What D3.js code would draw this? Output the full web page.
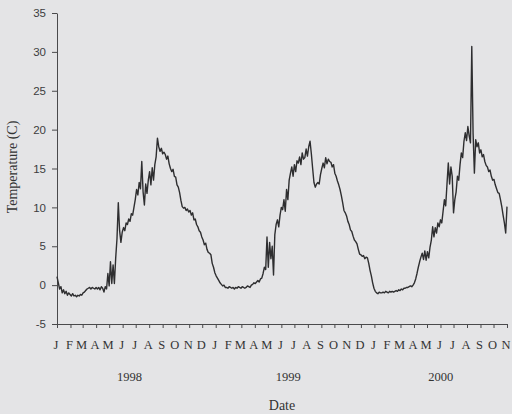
<!DOCTYPE html>
<html>
<head>
<meta charset="utf-8">
<script src="https://cdn.jsdelivr.net/npm/d3@7/dist/d3.min.js"></script>
<style>
  html, body { margin: 0; padding: 0; background: #e4e4e6; }
  svg { display: block; }
</style>
</head>
<body>
<svg id="chart" width="512" height="414"></svg>
<script>
// Daily water temperature, sampled every 3 days from 1 Jan 1998
const startDate = "1998-01-01";
const stepDays = 3;
const temps = [
  // 1998
  1.1, 0.3, -0.5, -0.2, -1.0, -0.6, -1.1, -0.8, -1.3, -1.0,
  -1.2, -1.4, -1.1, -1.4, -1.3, -1.5, -1.3, -1.4, -1.2, -1.3,
  -1.0, -0.9, -0.7, -0.5, -0.4, -0.3, -0.5, -0.3, -0.4, -0.5,
  -0.3, -0.5, -0.3, -0.6, -0.2, -0.4, -0.9, -0.2, -0.5, 1.5,
  -0.1, 3.0, 0.2, 2.6, 0.2, 3.5, 6.0, 10.6, 7.0, 5.5,
  6.8, 7.4, 7.0, 8.0, 7.8, 8.5, 8.2, 9.2, 9.0, 10.0,
  11.0, 12.3, 11.6, 13.2, 12.4, 15.9, 12.0, 10.3, 13.0, 11.8,
  13.5, 14.6, 12.9, 15.1, 13.5, 15.5, 16.5, 18.9, 17.8, 17.2,
  17.6, 16.9, 17.1, 16.8, 16.2, 16.6, 15.6, 15.0, 14.6, 14.9,
  14.0, 13.9, 12.9, 12.6, 11.9, 10.9, 10.1, 9.9, 10.0, 9.6,
  9.8, 9.4, 9.6, 9.0, 9.3, 8.4, 8.5, 7.8, 7.5, 7.0,
  6.8, 6.2, 5.8, 5.2, 5.4, 4.6, 4.2, 4.1, 3.9, 2.8,
  // 1999
  2.3, 1.6, 1.2, 0.9, 0.6, 0.3, 0.1, -0.1, 0.0, -0.3,
  -0.3, -0.4, -0.2, -0.3, -0.4, -0.3, -0.5, -0.3, -0.4, -0.2,
  -0.3, -0.4, -0.2, -0.3, -0.4, -0.3, -0.1, -0.2, -0.3, 0.0,
  0.1, 0.3, 0.2, 0.4, 0.6, 0.4, 0.8, 0.9, 1.5, 2.3,
  2.0, 6.2, 2.3, 5.5, 3.4, 5.0, 1.3, 6.5, 7.8, 8.4,
  7.5, 9.0, 10.0, 9.7, 11.0, 9.5, 12.3, 11.0, 13.5, 14.4,
  15.2, 14.0, 15.5, 14.6, 16.0, 15.7, 16.5, 15.5, 17.0, 16.2,
  16.4, 17.5, 16.6, 17.8, 18.5, 16.9, 15.0, 13.2, 12.6, 13.0,
  13.2, 13.0, 14.2, 15.0, 15.7, 15.1, 16.4, 15.6, 16.2, 15.9,
  15.8, 15.2, 15.5, 14.4, 14.0, 13.4, 12.9, 12.3, 11.5, 10.6,
  9.6, 9.3, 8.9, 8.2, 7.8, 7.1, 6.9, 6.3, 5.8, 5.6,
  5.3, 4.6, 4.0, 3.9, 3.7, 3.8, 3.4, 3.6, 3.5, 2.8,
  // 2000
  1.9, 1.2, 0.3, -0.4, -0.8, -1.0, -1.1, -0.9, -1.0, -1.0,
  -0.9, -1.0, -0.8, -0.9, -1.0, -0.8, -0.9, -0.8, -0.9, -0.8,
  -0.7, -0.8, -0.6, -0.7, -0.5, -0.6, -0.4, -0.4, -0.3, -0.3,
  -0.2, -0.1, -0.2, 0.0, 0.3, 0.8, 1.5, 2.3, 3.0, 3.6,
  4.1, 3.3, 4.4, 3.2, 4.3, 3.5, 4.9, 5.8, 7.5, 6.2,
  7.4, 6.7, 8.0, 7.5, 8.4, 8.0, 9.5, 11.0, 10.2, 13.0,
  15.7, 13.0, 15.2, 14.0, 9.3, 11.0, 12.0, 14.0, 13.5, 15.5,
  17.0, 16.4, 18.5, 19.6, 18.6, 20.4, 19.2, 18.3, 30.7, 19.5,
  14.4, 18.7, 17.8, 18.3, 17.0, 17.4, 16.5, 16.8, 15.9, 15.4,
  15.2, 14.6, 14.8, 14.0, 13.5, 13.6, 12.9, 12.4, 11.9, 11.8,
  11.0, 10.1, 9.0, 8.0, 6.7, 10.1
];

const monthInitials = ["J", "F", "M", "A", "M", "J", "J", "A", "S", "O", "N", "D"];
const yTicks = [-5, 0, 5, 10, 15, 20, 25, 30, 35];
const axisStart = "1998-01-01";
const axisEnd = "2000-11-01";
const yTitle = "Temperature (C)";
const xTitle = "Date";

const parse = d3.utcParse("%Y-%m-%d");
const t0 = parse(startDate);
const series = temps.map((v, i) => ({ date: d3.utcDay.offset(t0, i * stepDays), value: v }));

const svg = d3.select("#chart");
const ink = "#2e2e30";
const axisInk = "#4a4a4c";

const x = d3.scaleUtc()
  .domain([parse(axisStart), parse(axisEnd)])
  .range([57, 507]);

const y = d3.scaleLinear()
  .domain([-5, 35])
  .range([324, 13]);

// Y axis
const yAxis = svg.append("g")
  .attr("transform", "translate(57,0)")
  .call(d3.axisLeft(y).tickValues(yTicks).tickSize(5).tickPadding(6).tickSizeOuter(0)
    .tickFormat(d => String(d)));
yAxis.select(".domain").attr("stroke", axisInk);
yAxis.selectAll(".tick line").attr("stroke", axisInk);
yAxis.selectAll(".tick text")
  .attr("fill", "#3c3c3e")
  .style("font-family", "'Liberation Sans', Arial, sans-serif")
  .style("font-size", "11.5px");

// X axis with one tick per month
const months = d3.utcMonth.range(parse(axisStart), d3.utcDay.offset(parse(axisEnd), 1));
const xAxis = svg.append("g")
  .attr("transform", `translate(0,${y(-5)})`)
  .call(d3.axisBottom(x).tickValues(months).tickSize(4).tickSizeOuter(0)
    .tickFormat(d => monthInitials[d.getUTCMonth()]).tickPadding(12));
xAxis.select(".domain").attr("stroke", axisInk);
xAxis.selectAll(".tick line").attr("stroke", axisInk);
xAxis.selectAll(".tick text")
  .attr("fill", "#333")
  .attr("dx", "-1.5")
  .style("font-family", "'Liberation Serif', 'Times New Roman', serif")
  .style("font-size", "12.5px");

// Year labels centred under each year's months
const years = d3.groups(months, d => d.getUTCFullYear());
svg.append("g").selectAll("text")
  .data(years)
  .join("text")
  .attr("x", ([, ms]) => (x(ms[0]) + x(ms[ms.length - 1])) / 2)
  .attr("y", 381)
  .attr("text-anchor", "middle")
  .attr("fill", "#333")
  .style("font-family", "'Liberation Serif', 'Times New Roman', serif")
  .style("font-size", "12.5px")
  .text(([yr]) => yr);

// Axis titles
svg.append("text")
  .attr("x", 282)
  .attr("y", 410)
  .attr("text-anchor", "middle")
  .attr("fill", "#333")
  .style("font-family", "'Liberation Serif', 'Times New Roman', serif")
  .style("font-size", "14px")
  .text(xTitle);

svg.append("text")
  .attr("transform", "translate(17,167) rotate(-90)")
  .attr("text-anchor", "middle")
  .attr("fill", "#333")
  .style("font-family", "'Liberation Serif', 'Times New Roman', serif")
  .style("font-size", "14px")
  .text(yTitle);

// Temperature trace
svg.append("path")
  .datum(series)
  .attr("fill", "none")
  .attr("stroke", ink)
  .attr("stroke-width", 1.4)
  .attr("stroke-linejoin", "round")
  .attr("d", d3.line().x(d => x(d.date)).y(d => y(d.value)));
</script>
</body>
</html>
